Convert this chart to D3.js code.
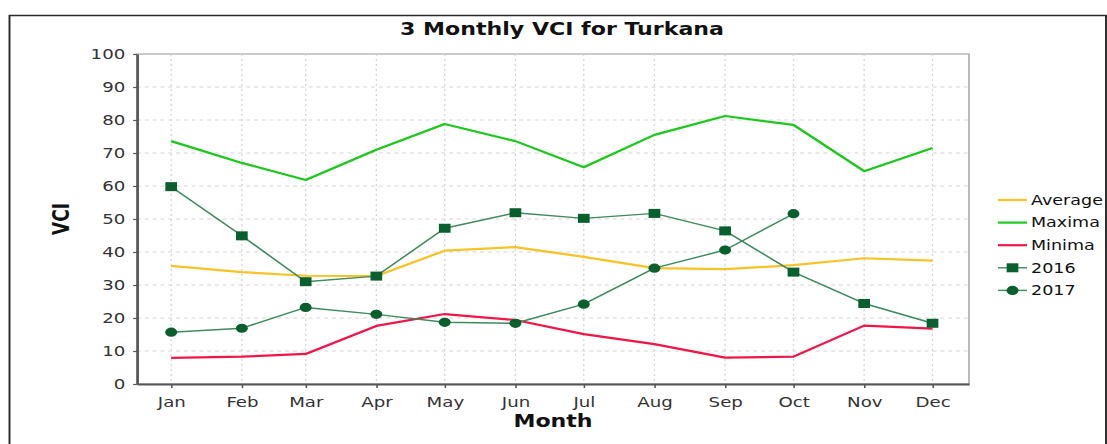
<!DOCTYPE html>
<html>
<head>
<meta charset="utf-8">
<script src="https://cdn.jsdelivr.net/npm/d3@7"></script>
<style>
  body { margin: 0; background: #fff; }
  svg { display: block; }
  text { font-family: "DejaVu Sans", sans-serif; }
</style>
</head>
<body>
<script>
// the source picture is stretched sideways, so draw in a narrower box and stretch it
var W = 1107, H = 444, SX = 1.3;
var vw = W / SX;

var months   = ["Jan","Feb","Mar","Apr","May","Jun","Jul","Aug","Sep","Oct","Nov","Dec"];
var average  = [35.8, 33.9, 32.8, 32.7, 40.4, 41.5, 38.5, 35.1, 34.8, 36.0, 38.1, 37.4];
var maxima   = [73.6, 67.0, 61.8, 71.0, 78.8, 73.6, 65.7, 75.5, 81.2, 78.5, 64.5, 71.5];
var minima   = [7.9, 8.3, 9.1, 17.6, 21.2, 19.4, 15.1, 12.1, 8.0, 8.3, 17.7, 16.8];
var vci2016  = [59.8, 44.9, 31.0, 32.7, 47.2, 51.9, 50.2, 51.7, 46.4, 33.9, 24.4, 18.4];
var vci2017  = [15.7, 16.9, 23.2, 21.1, 18.7, 18.4, 24.2, 35.1, 40.6, 51.6, null, null];
var yTicks   = [0, 10, 20, 30, 40, 50, 60, 70, 80, 90, 100];

var series = [
  { name: "Average", values: average, color: "#f7c325", width: 2.2, marker: null },
  { name: "Maxima",  values: maxima,  color: "#1fc81f", width: 2.2, marker: null },
  { name: "Minima",  values: minima,  color: "#f0164a", width: 2.2, marker: null },
  { name: "2016",    values: vci2016, color: "#3f8a5e", width: 1.4, marker: "square" },
  { name: "2017",    values: vci2017, color: "#3f8a5e", width: 1.4, marker: "circle" }
];
var markerFill = "#0a5f2e";

var dates = months.map(function(m, i) { return new Date(2017, i, 1); });

var plotLeft = 137 / SX, plotRight = 969 / SX, plotTop = 54, plotBottom = 384;

var x = d3.scaleTime()
    .domain([new Date(2016, 11, 17), new Date(2017, 11, 17)])
    .range([plotLeft, plotRight]);
var y = d3.scaleLinear().domain([0, 100]).range([plotBottom, plotTop]);

var svg = d3.select("body").append("svg")
    .attr("width", W).attr("height", H)
    .attr("viewBox", "0 0 " + vw + " " + H)
    .attr("preserveAspectRatio", "none");

// outer frame
svg.append("rect")
    .attr("x", 9.5 / SX).attr("y", 15.5)
    .attr("width", (1106 - 9.5) / SX).attr("height", 500)
    .attr("fill", "#fff").attr("stroke", "#2a2a2a").attr("stroke-width", 1.5);

svg.append("text")
    .attr("x", 562 / SX).attr("y", 35)
    .attr("text-anchor", "middle")
    .style("font-size", "17px").style("font-weight", "bold").attr("fill", "#111")
    .text("3 Monthly VCI for Turkana");

// plot background and grid
svg.append("rect")
    .attr("x", plotLeft).attr("y", plotTop)
    .attr("width", plotRight - plotLeft).attr("height", plotBottom - plotTop)
    .attr("fill", "#fff").attr("stroke", "#a8a8a8").attr("stroke-width", 1.2);

svg.append("g").selectAll("line")
    .data(yTicks.filter(function(t) { return t > 0 && t < 100; }))
    .enter().append("line")
    .attr("x1", plotLeft).attr("x2", plotRight)
    .attr("y1", function(d) { return y(d); }).attr("y2", function(d) { return y(d); })
    .attr("stroke", "#d6d6d6").attr("stroke-width", 1)
    .attr("stroke-dasharray", "3,3");

svg.append("g").selectAll("line")
    .data(dates)
    .enter().append("line")
    .attr("x1", function(d) { return x(d); }).attr("x2", function(d) { return x(d); })
    .attr("y1", plotTop).attr("y2", plotBottom)
    .attr("stroke", "#d6d6d6").attr("stroke-width", 1)
    .attr("stroke-dasharray", "2,3");

// axes
var xAxis = d3.axisBottom(x)
    .tickValues(dates)
    .tickFormat(function(d, i) { return months[i]; })
    .tickSizeInner(4).tickSizeOuter(0).tickPadding(6);
var gx = svg.append("g").attr("transform", "translate(0," + plotBottom + ")").call(xAxis);

var yAxis = d3.axisLeft(y)
    .tickValues(yTicks)
    .tickSizeInner(3).tickSizeOuter(0).tickPadding(6);
var gy = svg.append("g").attr("transform", "translate(" + plotLeft + ",0)").call(yAxis);

[gx, gy].forEach(function(g) {
  g.select(".domain").attr("stroke", "#555").attr("stroke-width", 2);
  g.selectAll(".tick line").attr("stroke", "#555").attr("stroke-width", 1.2);
  g.selectAll(".tick text")
      .style("font-family", "'DejaVu Sans', sans-serif")
      .style("font-size", "14px").attr("fill", "#333");
});
gx.selectAll(".tick text").attr("dy", "0.95em");

svg.append("text")
    .attr("x", (plotLeft + plotRight) / 2).attr("y", 427)
    .attr("text-anchor", "middle")
    .style("font-size", "17px").style("font-weight", "bold").attr("fill", "#111")
    .text("Month");

svg.append("text")
    .attr("transform", "translate(" + (61 / SX) + "," + ((plotTop + plotBottom) / 2) + ") rotate(-90)")
    .attr("text-anchor", "middle").attr("dy", "0.36em")
    .style("font-size", "17px").style("font-weight", "bold").attr("fill", "#111")
    .text("VCI");

// lines
var line = d3.line()
    .defined(function(d) { return d.v != null; })
    .x(function(d) { return x(d.date); })
    .y(function(d) { return y(d.v); });

function drawMarker(g, kind, cx, cy) {
  if (kind === "square") {
    g.append("rect")
        .attr("x", cx - 4.5).attr("y", cy - 4.5)
        .attr("width", 9).attr("height", 9)
        .attr("fill", markerFill);
  } else if (kind === "circle") {
    g.append("ellipse")
        .attr("cx", cx).attr("cy", cy)
        .attr("rx", 4.6).attr("ry", 4.6)
        .attr("fill", markerFill);
  }
}

series.forEach(function(s) {
  var pts = s.values.map(function(v, i) { return { date: dates[i], v: v }; });
  svg.append("path")
      .datum(pts)
      .attr("d", line)
      .attr("fill", "none")
      .attr("stroke", s.color)
      .attr("stroke-width", s.width)
      .attr("stroke-linejoin", "round");
  if (s.marker) {
    var g = svg.append("g");
    pts.filter(function(p) { return p.v != null; }).forEach(function(p) {
      drawMarker(g, s.marker, x(p.date), y(p.v));
    });
  }
});

// legend
var legend = svg.append("g");
series.forEach(function(s, i) {
  var ly = 200 + i * 22.6;
  var x1 = 998 / SX, x2 = 1027 / SX;
  legend.append("line")
      .attr("x1", x1).attr("x2", x2).attr("y1", ly).attr("y2", ly)
      .attr("stroke", s.color).attr("stroke-width", s.marker ? 1.4 : 2.2);
  if (s.marker) drawMarker(legend, s.marker, (x1 + x2) / 2, ly);
  legend.append("text")
      .attr("x", 1031 / SX).attr("y", ly).attr("dy", "0.36em")
      .style("font-size", "13.5px").attr("fill", "#111")
      .text(s.name);
});
</script>
</body>
</html>
